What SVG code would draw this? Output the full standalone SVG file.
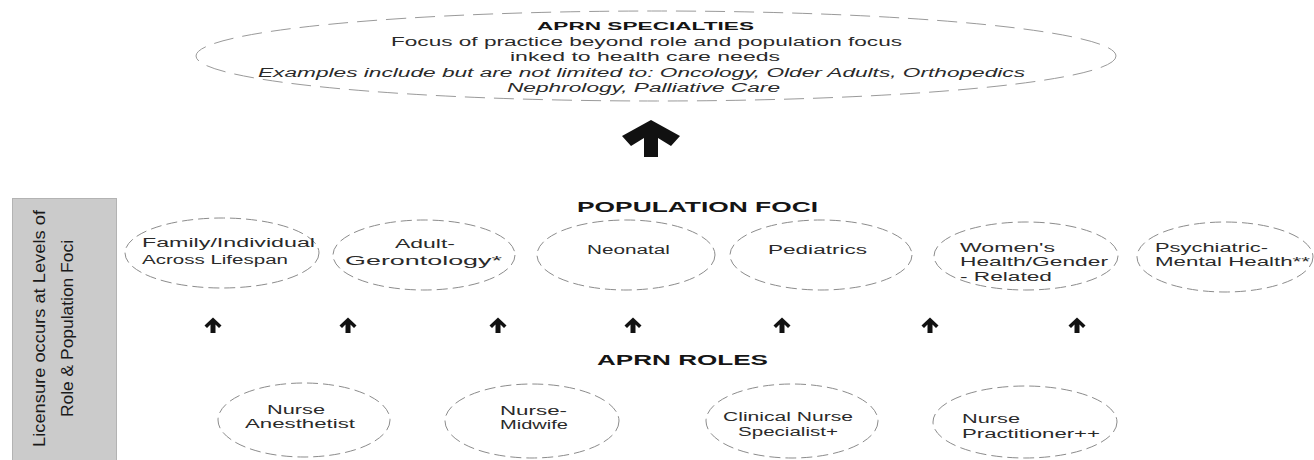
<svg xmlns="http://www.w3.org/2000/svg" width="1314" height="460" viewBox="0 0 1314 460">
<style>
.bg{fill:#ffffff}
.ell{fill:none;stroke:#8c8c8c;stroke-width:1;stroke-dasharray:11 5}
.ellTop{fill:none;stroke:#9a9a9a;stroke-width:1;stroke-dasharray:20 9}
.t{font-family:"Liberation Sans",Arial,sans-serif;font-size:12px;fill:#2a2a2a}
.ti{font-family:"Liberation Sans",Arial,sans-serif;font-size:12px;font-style:italic;fill:#2a2a2a}
.hb{font-family:"Liberation Sans",Arial,sans-serif;font-weight:bold;font-size:14px;fill:#151515}
.hbs{font-family:"Liberation Sans",Arial,sans-serif;font-weight:bold;font-size:11.5px;fill:#151515}
.side{font-family:"Liberation Sans",Arial,sans-serif;font-size:17px;fill:#1a1a1a}
.arr{fill:#111111}
</style>
<rect class="bg" x="0" y="0" width="1314" height="460"/>

<g id="specialties">
<ellipse class="ellTop" cx="656" cy="56" rx="460" ry="45"/>
<text class="hbs" x="537" y="30" textLength="217" lengthAdjust="spacingAndGlyphs">APRN SPECIALTIES</text>
<text class="t" x="391" y="45.5" textLength="511" lengthAdjust="spacingAndGlyphs">Focus of practice beyond role and population focus</text>
<text class="t" x="510" y="61" textLength="270" lengthAdjust="spacingAndGlyphs">inked to health care needs</text>
<text class="ti" x="258" y="77" textLength="767" lengthAdjust="spacingAndGlyphs">Examples include but are not limited to: Oncology, Older Adults, Orthopedics</text>
<text class="ti" x="507" y="92" textLength="273" lengthAdjust="spacingAndGlyphs">Nephrology, Palliative Care</text>
</g>

<g id="side-bar">
<rect x="12.5" y="198.5" width="104" height="262" fill="#cbcbcb" stroke="#b3b3b3" stroke-width="1"/>
<text class="side" transform="translate(45,447) rotate(-90)" x="0" y="0" textLength="237" lengthAdjust="spacingAndGlyphs">Licensure occurs at Levels of</text>
<text class="side" transform="translate(73,417) rotate(-90)" x="0" y="0" textLength="177" lengthAdjust="spacingAndGlyphs">Role &amp; Population Foci</text>
</g>

<g id="population-foci-title">
<text class="hb" x="577" y="212" textLength="241" lengthAdjust="spacingAndGlyphs">POPULATION FOCI</text>
</g>

<g id="foci-family">
<ellipse class="ell" cx="222" cy="253" rx="97" ry="35"/>
<text class="t" x="142" y="247" textLength="173" lengthAdjust="spacingAndGlyphs">Family/Individual</text>
<text class="t" x="142" y="264" textLength="146" lengthAdjust="spacingAndGlyphs">Across Lifespan</text>
</g>
<g id="foci-adult">
<ellipse class="ell" cx="424" cy="255" rx="91" ry="35"/>
<text class="t" x="395" y="248" textLength="60" lengthAdjust="spacingAndGlyphs">Adult-</text>
<text class="t" x="345" y="265" textLength="157" lengthAdjust="spacingAndGlyphs">Gerontology*</text>
</g>
<g id="foci-neonatal">
<ellipse class="ell" cx="626" cy="255" rx="89" ry="35"/>
<text class="t" x="587" y="254" textLength="83" lengthAdjust="spacingAndGlyphs">Neonatal</text>
</g>
<g id="foci-pediatrics">
<ellipse class="ell" cx="821" cy="255" rx="91" ry="35"/>
<text class="t" x="768" y="254" textLength="99" lengthAdjust="spacingAndGlyphs">Pediatrics</text>
</g>
<g id="foci-womens">
<ellipse class="ell" cx="1026" cy="256" rx="92" ry="34"/>
<text class="t" x="960" y="252" textLength="95" lengthAdjust="spacingAndGlyphs">Women's</text>
<text class="t" x="960" y="266" textLength="148" lengthAdjust="spacingAndGlyphs">Health/Gender</text>
<text class="t" x="960" y="281" textLength="92" lengthAdjust="spacingAndGlyphs">- Related</text>
</g>
<g id="foci-psych">
<ellipse class="ell" cx="1225" cy="257" rx="88" ry="35"/>
<text class="t" x="1155" y="252" textLength="113" lengthAdjust="spacingAndGlyphs">Psychiatric-</text>
<text class="t" x="1155" y="266" textLength="155" lengthAdjust="spacingAndGlyphs">Mental Health**</text>
</g>

<g id="roles-title">
<text class="hb" x="597" y="365" textLength="171" lengthAdjust="spacingAndGlyphs">APRN ROLES</text>
</g>

<g id="role-anesthetist">
<ellipse class="ell" cx="304" cy="420" rx="86" ry="37"/>
<text class="t" x="267" y="414" textLength="58" lengthAdjust="spacingAndGlyphs">Nurse</text>
<text class="t" x="245" y="428" textLength="110" lengthAdjust="spacingAndGlyphs">Anesthetist</text>
</g>
<g id="role-midwife">
<ellipse class="ell" cx="532" cy="421" rx="87" ry="37"/>
<text class="t" x="500" y="415" textLength="67" lengthAdjust="spacingAndGlyphs">Nurse-</text>
<text class="t" x="500" y="429" textLength="68" lengthAdjust="spacingAndGlyphs">Midwife</text>
</g>
<g id="role-cns">
<ellipse class="ell" cx="792" cy="421" rx="86" ry="37"/>
<text class="t" x="723" y="421" textLength="130" lengthAdjust="spacingAndGlyphs">Clinical Nurse</text>
<text class="t" x="738" y="436" textLength="100" lengthAdjust="spacingAndGlyphs">Specialist+</text>
</g>
<g id="role-np">
<ellipse class="ell" cx="1025" cy="422" rx="92" ry="36"/>
<text class="t" x="962" y="423" textLength="58" lengthAdjust="spacingAndGlyphs">Nurse</text>
<text class="t" x="962" y="438" textLength="138" lengthAdjust="spacingAndGlyphs">Practitioner++</text>
</g>

<g id="connectors">
<polygon class="arr" points="651,120 680,136 671,146 658,138 658,157 644,157 644,138 631,146 622,136"/>
<polygon class="arr" points="213,317.5 221.5,325.5 219,328 215.5,324.5 215.5,333 210.5,333 210.5,324.5 207,328 204.5,325.5"/>
<polygon class="arr" points="348,317.5 356.5,325.5 354,328 350.5,324.5 350.5,333 345.5,333 345.5,324.5 342,328 339.5,325.5"/>
<polygon class="arr" points="498,317.5 506.5,325.5 504,328 500.5,324.5 500.5,333 495.5,333 495.5,324.5 492,328 489.5,325.5"/>
<polygon class="arr" points="633,317.5 641.5,325.5 639,328 635.5,324.5 635.5,333 630.5,333 630.5,324.5 627,328 624.5,325.5"/>
<polygon class="arr" points="782,317.5 790.5,325.5 788,328 784.5,324.5 784.5,333 779.5,333 779.5,324.5 776,328 773.5,325.5"/>
<polygon class="arr" points="930,317.5 938.5,325.5 936,328 932.5,324.5 932.5,333 927.5,333 927.5,324.5 924,328 921.5,325.5"/>
<polygon class="arr" points="1077,317.5 1085.5,325.5 1083,328 1079.5,324.5 1079.5,333 1074.5,333 1074.5,324.5 1071,328 1068.5,325.5"/>
</g>
</svg>
